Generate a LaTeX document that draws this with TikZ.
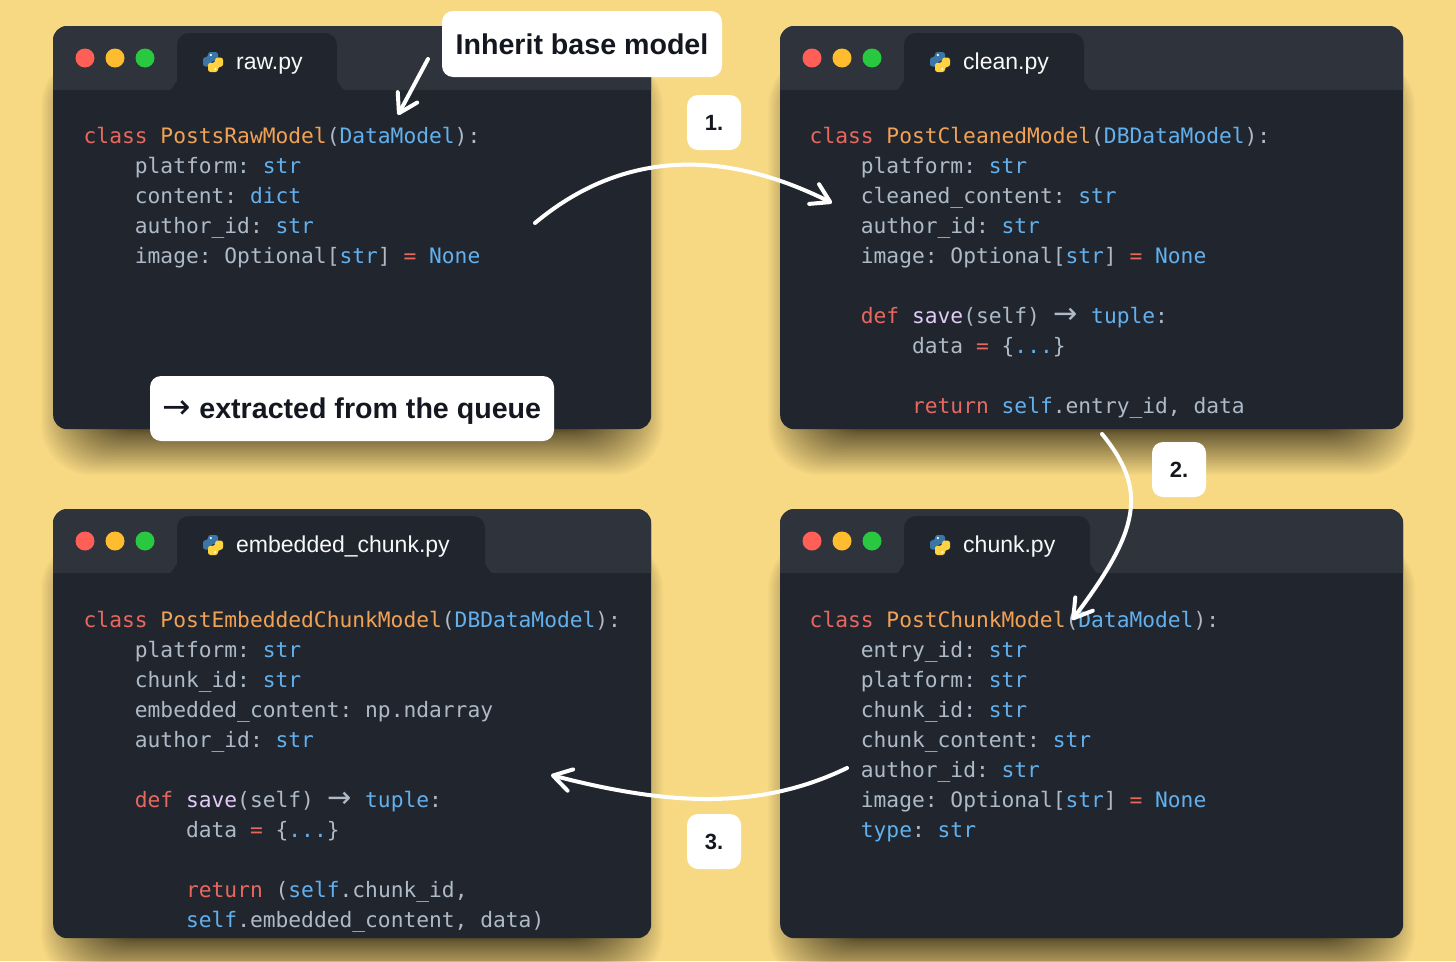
\documentclass[tikz,border=0pt]{standalone}
\usepackage{fontspec}
\setmonofont{DejaVu Sans Mono}
\setsansfont{Liberation Sans}
\newfontfamily\arrowfont{DejaVu Sans}
\usetikzlibrary{arrows.meta}
\definecolor{paper}{HTML}{F7D984}
\definecolor{winbody}{HTML}{21262E}
\definecolor{winbar}{HTML}{2F333B}
\definecolor{kwcol}{HTML}{E8685F}
\definecolor{namecol}{HTML}{F2A254}
\definecolor{typecol}{HTML}{62B0EE}
\definecolor{plaincol}{HTML}{AEBAC8}
\definecolor{fncol}{HTML}{E3CBF7}
\definecolor{pyblue}{HTML}{3B76A9}
\definecolor{pyyellow}{HTML}{FFD340}
\definecolor{labelink}{HTML}{14171F}
\definecolor{lightred}{HTML}{FF5F57}
\definecolor{lightamber}{HTML}{FEBC2E}
\definecolor{lightgreen}{HTML}{28C840}
\newcommand{\kw}[1]{\textcolor{kwcol}{#1}}
\newcommand{\cn}[1]{\textcolor{namecol}{#1}}
\newcommand{\ty}[1]{\textcolor{typecol}{#1}}
\newcommand{\fn}[1]{\textcolor{fncol}{#1}}
\newcommand{\ind}{\hspace*{51.2pt}}
\newcommand{\indd}{\hspace*{102.4pt}}
\newcommand{\ligarrow}{\makebox[25.6pt][c]{\arrowfont\fontsize{29}{30}\selectfont →}}
\tikzset{
	codewin/.style={fill=winbody,rounded corners=14pt,anchor=north west,inner sep=0pt},
	codetext/.style={anchor=north west,inner sep=0pt,align=left,text=plaincol,
		font=\ttfamily\fontsize{21.25}{30}\selectfont},
	tabtext/.style={anchor=base west,inner sep=0pt,text=white!90!plaincol,font=\sffamily\fontsize{23}{23}\selectfont},
	callout/.style={fill=white,rounded corners=11pt,inner sep=0pt,text depth=0pt,text=labelink,font=\sffamily\bfseries\fontsize{28.6}{29}\selectfont},
	stepbox/.style={callout,minimum width=54pt,minimum height=55pt,font=\sffamily\bfseries\fontsize{22}{22}\selectfont},
	flow/.style={draw=white,line width=4pt,line cap=round,-{Straight Barb[length=18pt,width=22pt,round]}},
}
% soft shadow of a window, args: x, y, width, height
\newcommand{\winshadow}[4]{
	\foreach \i in {1,...,40}{
		\pgfmathsetmacro{\r}{46*(\i/40)^1.6}
		\fill[black,opacity=0.022,rounded corners=50pt] ({#1+34-\r},{#2+30}) rectangle ({#1+#3-34+\r},{#2+#4+\r});
	}
}
% args: name, x, y, width, height, tab width, title
\newcommand{\codewin}[7]{
	\node[codewin,minimum width=#4pt,minimum height=#5pt] (#1win) at (#2,#3) {};
	\begin{scope}[shift={(#2,#3)}]
		\fill[winbar,rounded corners=14pt] (0,64) |- (#4,0) -- (#4,64);
		\fill[winbody] (116,64) to[out=0,in=90] (124,56) -- (124,19) arc[start angle=180,end angle=270,radius=12]
			-- ({124+#6-12},7) arc[start angle=270,end angle=360,radius=12]
			-- ({124+#6},56) to[out=90,in=180] ({124+#6+8},64) -- cycle;
		\fill[lightred] (32,32) circle (9.5);
		\fill[lightamber] (62,32) circle (9.5);
		\fill[lightgreen] (92,32) circle (9.5);
		\begin{scope}[shift={(160,36)}]
			\fill[pyblue,rounded corners=2.5pt] (-5,-10) -- (5,-10) -- (5,-0.8) -- (-2.2,-0.8) -- (-2.2,4.5) -- (-10,4.5) -- (-10,-4.8) -- (-5,-4.8) -- cycle;
			\fill[pyyellow,rounded corners=2.5pt] (5,10) -- (-5,10) -- (-5,0.8) -- (2.2,0.8) -- (2.2,-4.5) -- (10,-4.5) -- (10,4.8) -- (5,4.8) -- cycle;
			\fill[white] (-2.2,-7) circle (1.2);
			\fill[white] (2.2,7) circle (1.2);
		\end{scope}
		\node[tabtext] (#1title) at (183,43) {#7};
	\end{scope}
}
\begin{document}
\begin{tikzpicture}[x=1pt,y=-1pt]
	\useasboundingbox (0,0) rectangle (1456,961);
	\fill[paper] (0,0) rectangle (1456,961);

	\winshadow{53}{26}{598}{403}
	\winshadow{780}{26}{623}{403}
	\winshadow{53}{509}{598}{429}
	\winshadow{780}{509}{623}{429}

	\codewin{raw}{53}{26}{598}{403}{160}{raw.py}
	\codewin{clean}{780}{26}{623}{403}{180}{clean.py}
	\codewin{embedded}{53}{509}{598}{429}{308}{embedded\_chunk.py}
	\codewin{chunk}{780}{509}{623}{429}{186}{chunk.py}

	\node[codetext] (rawcode) at (83.5,127) {\kw{class} \cn{PostsRawModel}(\ty{DataModel}):\\
		\ind platform: \ty{str}\\
		\ind content: \ty{dict}\\
		\ind author\_id: \ty{str}\\
		\ind image: Optional[\ty{str}] \kw{=} \ty{None}};
	\node[codetext] (cleancode) at (809.5,127) {\kw{class} \cn{PostCleanedModel}(\ty{DBDataModel}):\\
		\ind platform: \ty{str}\\
		\ind cleaned\_content: \ty{str}\\
		\ind author\_id: \ty{str}\\
		\ind image: Optional[\ty{str}] \kw{=} \ty{None}\\
		\mbox{}\\
		\ind \kw{def} \fn{save}(self) \ligarrow{} \ty{tuple}:\\
		\indd data \kw{=} \{\ty{...}\}\\
		\mbox{}\\
		\indd \kw{return} \ty{self}.entry\_id, data};
	\node[codetext] (embeddedcode) at (83.5,611) {\kw{class} \cn{PostEmbeddedChunkModel}(\ty{DBDataModel}):\\
		\ind platform: \ty{str}\\
		\ind chunk\_id: \ty{str}\\
		\ind embedded\_content: np.ndarray\\
		\ind author\_id: \ty{str}\\
		\mbox{}\\
		\ind \kw{def} \fn{save}(self) \ligarrow{} \ty{tuple}:\\
		\indd data \kw{=} \{\ty{...}\}\\
		\mbox{}\\
		\indd \kw{return} (\ty{self}.chunk\_id,\\
		\indd \ty{self}.embedded\_content, data)};
	\node[codetext] (chunkcode) at (809.5,611) {\kw{class} \cn{PostChunkModel}(\ty{DataModel}):\\
		\ind entry\_id: \ty{str}\\
		\ind platform: \ty{str}\\
		\ind chunk\_id: \ty{str}\\
		\ind chunk\_content: \ty{str}\\
		\ind author\_id: \ty{str}\\
		\ind image: Optional[\ty{str}] \kw{=} \ty{None}\\
		\ind \ty{type}: \ty{str}};

	\node[callout,minimum width=280pt,minimum height=66pt] (inherit) at (582,44) {Inherit base model};
	\node[callout,minimum width=404pt,minimum height=65pt] (queue) at (352,408.5) {{\arrowfont\mdseries\fontsize{34}{34}\selectfont →}\hspace{8pt}extracted from the queue};
	\node[stepbox] (stepone) at (714,122.5) {1.};
	\node[stepbox] (steptwo) at (1179,469.5) {2.};
	\node[stepbox] (stepthree) at (714,841.5) {3.};

	\coordinate (inheritfrom) at (428,59);
	\coordinate (inheritto) at (398,115);
	\coordinate (onefrom) at (535,223);
	\coordinate (oneto) at (832,203);
	\coordinate (twofrom) at (1102,434);
	\coordinate (twoto) at (1072,620);
	\coordinate (threefrom) at (847,768);
	\coordinate (threeto) at (551,775);

	\draw[flow] (inheritfrom) -- (inheritto);
	\draw[flow] (onefrom) .. controls (620,152) and (720,147) .. (oneto);
	\draw[flow] (twofrom) .. controls (1148,490) and (1140,530) .. (twoto);
	\draw[flow] (threefrom) .. controls (760,810) and (670,806) .. (threeto);
\end{tikzpicture}
\end{document}
